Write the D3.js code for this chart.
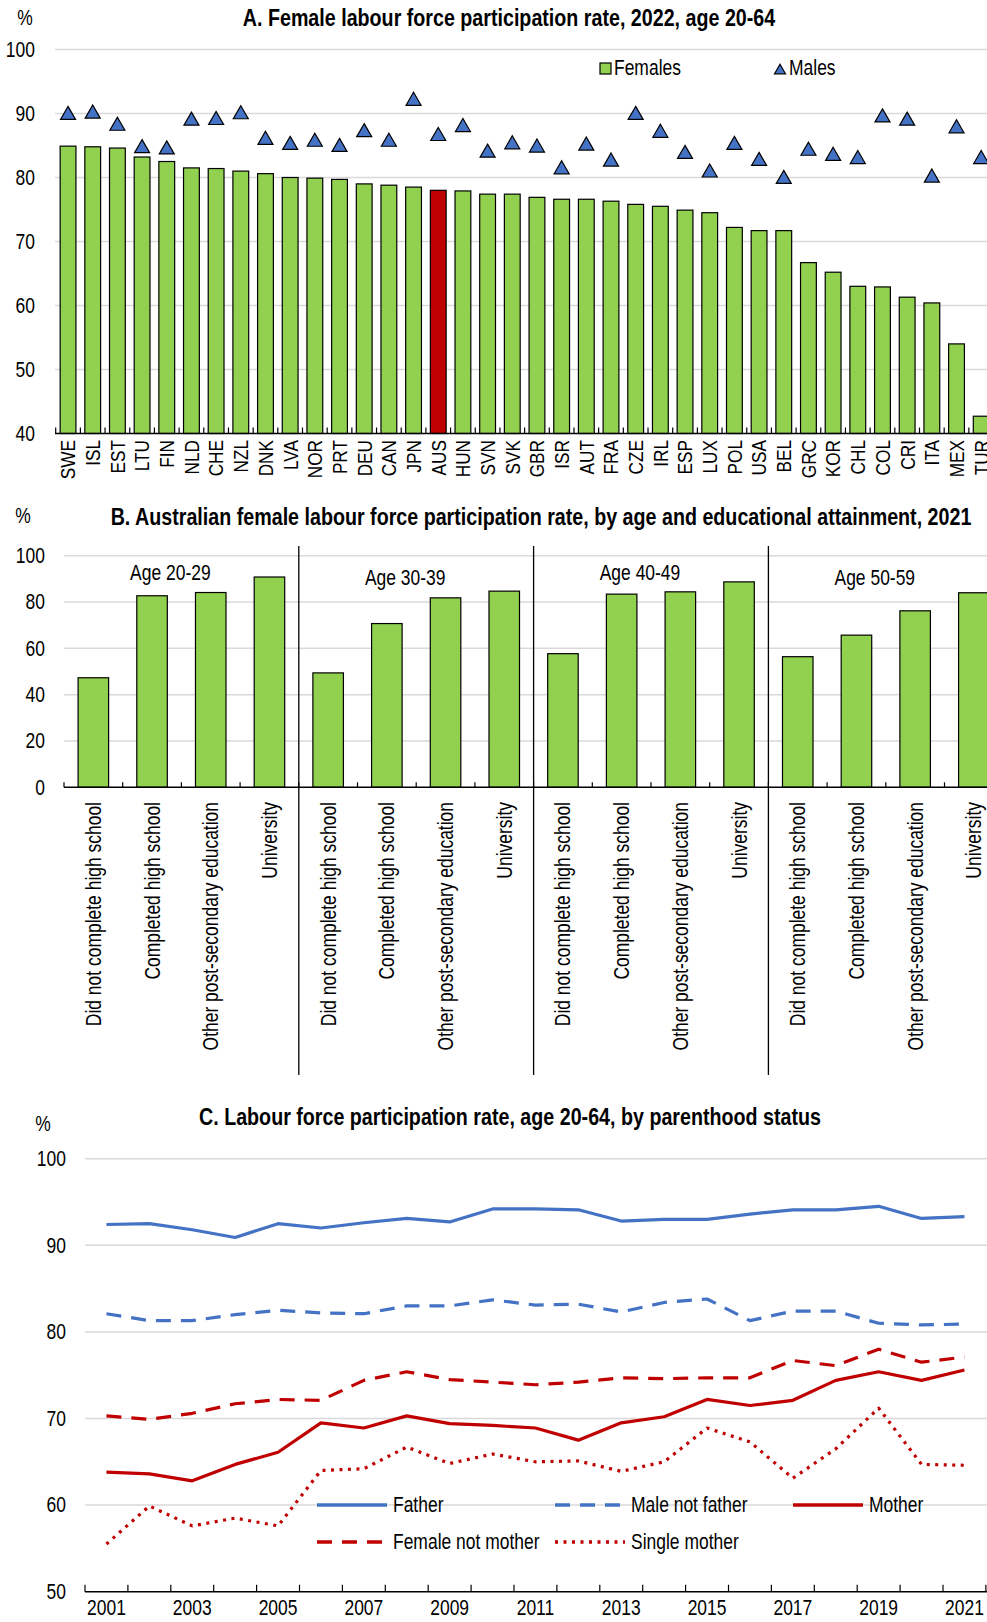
<!DOCTYPE html>
<head>
    <meta charset="utf-8">
    <title>Female labour force participation</title>
    <script src="https://d3js.org/d3.v7.min.js"></script>
    <style>

    body {
        margin: 0;
        background: #fff;
    }
    svg text {
        font-family: "Liberation Sans", Arial, sans-serif;
        fill: #000;
    }
    .grid line {
        stroke: #d9d9d9;
        stroke-width: 1.5;
    }

    </style>
</head>

<body>
    <script>
    // Panel A
    var countries = ["SWE","ISL","EST","LTU","FIN","NLD","CHE","NZL","DNK","LVA","NOR","PRT","DEU","CAN","JPN","AUS","HUN","SVN","SVK","GBR","ISR","AUT","FRA","CZE","IRL","ESP","LUX","POL","USA","BEL","GRC","KOR","CHL","COL","CRI","ITA","MEX","TUR"];
    var females = [84.9,84.8,84.6,83.2,82.5,81.5,81.4,81.0,80.6,80.0,79.9,79.7,79.0,78.8,78.5,78.0,77.9,77.4,77.4,76.9,76.6,76.6,76.3,75.8,75.5,74.9,74.5,72.2,71.7,71.7,66.7,65.2,63.0,62.9,61.3,60.4,54.0,42.7];
    var males = [90.1,90.3,88.4,84.9,84.7,89.2,89.3,90.2,86.2,85.4,85.9,85.1,87.4,85.9,92.3,86.8,88.2,84.2,85.5,85.0,81.6,85.3,82.8,90.1,87.3,84.0,81.1,85.4,82.9,80.1,84.5,83.7,83.2,89.7,89.2,80.3,88.0,83.2];
    var ticksA = [40,50,60,70,80,90,100];

    // Panel B
    var ageGroups = ["Age 20-29","Age 30-39","Age 40-49","Age 50-59"];
    var education = ["Did not complete high school","Completed high school","Other post-secondary education","University"];
    var eduValues = [
        [47.3,82.7,84.1,90.8],
        [49.4,70.7,81.8,84.7],
        [57.7,83.4,84.4,88.7],
        [56.4,65.7,76.2,84.0]
    ];
    var ticksB = [0,20,40,60,80,100];

    // Panel C
    var years = [2001,2002,2003,2004,2005,2006,2007,2008,2009,2010,2011,2012,2013,2014,2015,2016,2017,2018,2019,2020,2021];
    var father = [92.4,92.5,91.8,90.9,92.5,92.0,92.6,93.1,92.7,94.2,94.2,94.1,92.8,93.0,93.0,93.6,94.1,94.1,94.5,93.1,93.3];
    var maleNotFather = [82.1,81.3,81.3,82.0,82.5,82.2,82.1,83.0,83.0,83.7,83.1,83.2,82.3,83.4,83.8,81.3,82.4,82.4,81.0,80.8,80.9];
    var mother = [63.8,63.6,62.8,64.7,66.1,69.5,68.9,70.3,69.4,69.2,68.9,67.5,69.5,70.2,72.2,71.5,72.1,74.4,75.4,74.4,75.6];
    var femaleNotMother = [70.3,69.9,70.6,71.7,72.2,72.1,74.4,75.4,74.5,74.2,73.9,74.2,74.7,74.6,74.7,74.7,76.7,76.1,78.0,76.5,77.1];
    var singleMother = [55.5,59.9,57.6,58.5,57.6,64.0,64.2,66.7,64.8,65.9,65.0,65.1,63.9,65.0,68.9,67.3,63.1,66.5,71.2,64.7,64.6];
    var ticksC = [50,60,70,80,90,100];
    var xLabelYears = [2001,2003,2005,2007,2009,2011,2013,2015,2017,2019,2021];

    var width = 987,
        height = 1622,
        squeeze = 0.82,   // fake Arial Narrow with squeezed Liberation Sans
        fs = 21.3,        // regular label size
        titleFs = 24,
        green = "#92d050",
        red = "#c00000",
        blue = "#4472c4";

    var svg = d3.select("body").append("svg")
        .attr("width", width)
        .attr("height", height);

    // text helper: position, optional rotation, narrowed glyphs
    function label(parent, x, y, str, size, anchor, opts) {
        opts = opts || {};
        var t = parent.append("text")
            .attr("transform", "translate(" + x + "," + y + ")" +
                (opts.rotate ? " rotate(" + opts.rotate + ")" : "") +
                " scale(" + squeeze + ",1)")
            .attr("text-anchor", anchor || "start")
            .style("font-size", size + "px")
            .text(str);
        if (opts.dy) t.attr("dy", opts.dy);
        if (opts.bold) t.style("font-weight", "bold");
        return t;
    }

    function triangle(cx, cy, w) {
        var h = w * 0.87, p = d3.path();
        p.moveTo(cx, cy - h / 2);
        p.lineTo(cx + w / 2, cy + h / 2);
        p.lineTo(cx - w / 2, cy + h / 2);
        p.closePath();
        return p.toString();
    }

    function gridAndLabels(g, y, ticks, x0, x1, labelX) {
        var grid = g.append("g").attr("class", "grid");
        grid.selectAll("line")
            .data(ticks.slice(1))
            .enter().append("line")
            .attr("x1", x0).attr("x2", x1)
            .attr("y1", function(d) { return y(d); })
            .attr("y2", function(d) { return y(d); });
        g.append("g")
            .attr("transform", "translate(" + labelX + ",0)")
            .call(d3.axisLeft(y).tickValues(ticks).tickSize(0).tickPadding(0))
            .call(function(a) { a.select(".domain").remove(); })
            .selectAll("text")
            .attr("transform", "scale(" + squeeze + ",1)")
            .style("font-size", fs + "px");
    }

    function baseline(g, x, y0, n, x0, x1, tickLen) {
        g.append("line")
            .attr("x1", x0).attr("x2", x1)
            .attr("y1", y0).attr("y2", y0)
            .attr("stroke", "#000").attr("stroke-width", 1.5);
        g.selectAll(".tk")
            .data(d3.range(n + 1))
            .enter().append("line")
            .attr("class", "tk")
            .attr("x1", function(i) { return x.range()[0] + i * x.step(); })
            .attr("x2", function(i) { return x.range()[0] + i * x.step(); })
            .attr("y1", y0).attr("y2", y0 - tickLen)
            .attr("stroke", "#000").attr("stroke-width", 1.2);
    }

    // ---------- Panel A ----------
    var gA = svg.append("g");
    var yA = d3.scaleLinear().domain([40, 100]).range([433.5, 49.5]);
    var xA = d3.scaleBand().domain(countries).range([55.7, 55.7 + 38 * 24.68])
        .paddingInner(0.36).paddingOuter(0.18);

    label(gA, 25, 25, "%", fs, "middle");
    label(gA, 509, 26, "A. Female labour force participation rate, 2022, age 20-64", titleFs, "middle", { bold: true });

    gridAndLabels(gA, yA, ticksA, 55, width, 35);

    gA.selectAll(".bar")
        .data(countries)
        .enter().append("rect")
        .attr("x", function(d) { return xA(d); })
        .attr("width", xA.bandwidth())
        .attr("y", function(d, i) { return yA(females[i]); })
        .attr("height", function(d, i) { return yA(40) - yA(females[i]); })
        .attr("fill", function(d) { return d === "AUS" ? red : green; })
        .attr("stroke", "#000").attr("stroke-width", 1.2);

    gA.selectAll(".male")
        .data(countries)
        .enter().append("path")
        .attr("d", function(d, i) { return triangle(xA(d) + xA.bandwidth() / 2, yA(males[i]), 15); })
        .attr("fill", blue).attr("stroke", "#000").attr("stroke-width", 1.2);

    baseline(gA, xA, yA(40), countries.length, 55, width, 6);

    countries.forEach(function(c) {
        label(gA, xA(c) + xA.bandwidth() / 2, 440, c, 21, "end", { rotate: -90, dy: "0.35em" });
    });

    // legend A
    gA.append("rect").attr("x", 600).attr("y", 63).attr("width", 11).attr("height", 11)
        .attr("fill", green).attr("stroke", "#000").attr("stroke-width", 1.2);
    label(gA, 614, 75, "Females", fs, "start");
    gA.append("path").attr("d", triangle(780, 69, 11))
        .attr("fill", blue).attr("stroke", "#000").attr("stroke-width", 1.2);
    label(gA, 789, 75, "Males", fs, "start");

    // ---------- Panel B ----------
    var gB = svg.append("g");
    var bKeys = [];
    ageGroups.forEach(function(a, gi) {
        education.forEach(function(e, ei) {
            bKeys.push({ key: gi + "|" + ei, group: gi, edu: e, value: eduValues[gi][ei] });
        });
    });
    var yB = d3.scaleLinear().domain([0, 100]).range([787.3, 555.7]);
    var xB = d3.scaleBand().domain(bKeys.map(function(d) { return d.key; }))
        .range([64, 64 + 16 * 58.7]).paddingInner(0.48).paddingOuter(0.24);

    label(gB, 23, 523, "%", fs, "middle");
    label(gB, 541, 525, "B. Australian female labour force participation rate, by age and educational attainment, 2021", titleFs, "middle", { bold: true });

    gridAndLabels(gB, yB, ticksB, 64, width, 45);

    gB.selectAll(".bar")
        .data(bKeys)
        .enter().append("rect")
        .attr("x", function(d) { return xB(d.key); })
        .attr("width", xB.bandwidth())
        .attr("y", function(d) { return yB(d.value); })
        .attr("height", function(d) { return yB(0) - yB(d.value); })
        .attr("fill", green).attr("stroke", "#000").attr("stroke-width", 1.2);

    baseline(gB, xB, yB(0), bKeys.length, 64, width, 5);

    gB.selectAll(".sep")
        .data([1, 2, 3])
        .enter().append("line")
        .attr("x1", function(g) { return 64 + g * 4 * xB.step(); })
        .attr("x2", function(g) { return 64 + g * 4 * xB.step(); })
        .attr("y1", 546).attr("y2", 1075)
        .attr("stroke", "#000").attr("stroke-width", 1.3);

    ageGroups.forEach(function(a, i) {
        label(gB, 64 + (i * 4 + 2) * xB.step() - 11, i % 2 === 0 ? 580 : 585, a, fs, "middle");
    });

    bKeys.forEach(function(d) {
        label(gB, xB(d.key) + xB.bandwidth() / 2, 802, d.edu, fs, "end", { rotate: -90, dy: "0.35em" });
    });

    // ---------- Panel C ----------
    var gC = svg.append("g");
    var yC = d3.scaleLinear().domain([50, 100]).range([1591.7, 1158.7]);
    var xC = d3.scaleBand().domain(years).range([85, 85 + 21 * 42.9]);

    label(gC, 43, 1131, "%", fs, "middle");
    label(gC, 510, 1125, "C. Labour force participation rate, age 20-64, by parenthood status", titleFs, "middle", { bold: true });

    gridAndLabels(gC, yC, ticksC, 85, width, 66);

    var series = [
        { name: "Father", values: father, color: blue, dash: null },
        { name: "Male not father", values: maleNotFather, color: blue, dash: "15,10" },
        { name: "Mother", values: mother, color: red, dash: null },
        { name: "Female not mother", values: femaleNotMother, color: red, dash: "15,10" },
        { name: "Single mother", values: singleMother, color: red, dash: "3,5.5" }
    ];

    var line = d3.line()
        .x(function(d, i) { return xC(years[i]) + xC.bandwidth() / 2; })
        .y(function(d) { return yC(d); });

    gC.selectAll(".series")
        .data(series)
        .enter().append("path")
        .attr("d", function(s) { return line(s.values); })
        .attr("fill", "none")
        .attr("stroke", function(s) { return s.color; })
        .attr("stroke-width", 3.2)
        .attr("stroke-linejoin", "round")
        .attr("stroke-dasharray", function(s) { return s.dash; });

    baseline(gC, xC, yC(50), years.length, 85, width, 7);

    xLabelYears.forEach(function(yr) {
        label(gC, xC(yr) + xC.bandwidth() / 2, 1615, yr, fs, "middle");
    });

    // legend C
    var legPos = [[317, 1505], [555, 1505], [793, 1505], [317, 1542], [555, 1542]];
    series.forEach(function(s, i) {
        var g = gC.append("g")
            .attr("transform", "translate(" + legPos[i][0] + "," + legPos[i][1] + ")");
        g.append("line")
            .attr("x1", 0).attr("x2", 70)
            .attr("stroke", s.color)
            .attr("stroke-width", 3.5)
            .attr("stroke-dasharray", s.dash);
        label(g, 76, 0, s.name, fs, "start", { dy: "0.35em" });
    });

    </script>
</body>
